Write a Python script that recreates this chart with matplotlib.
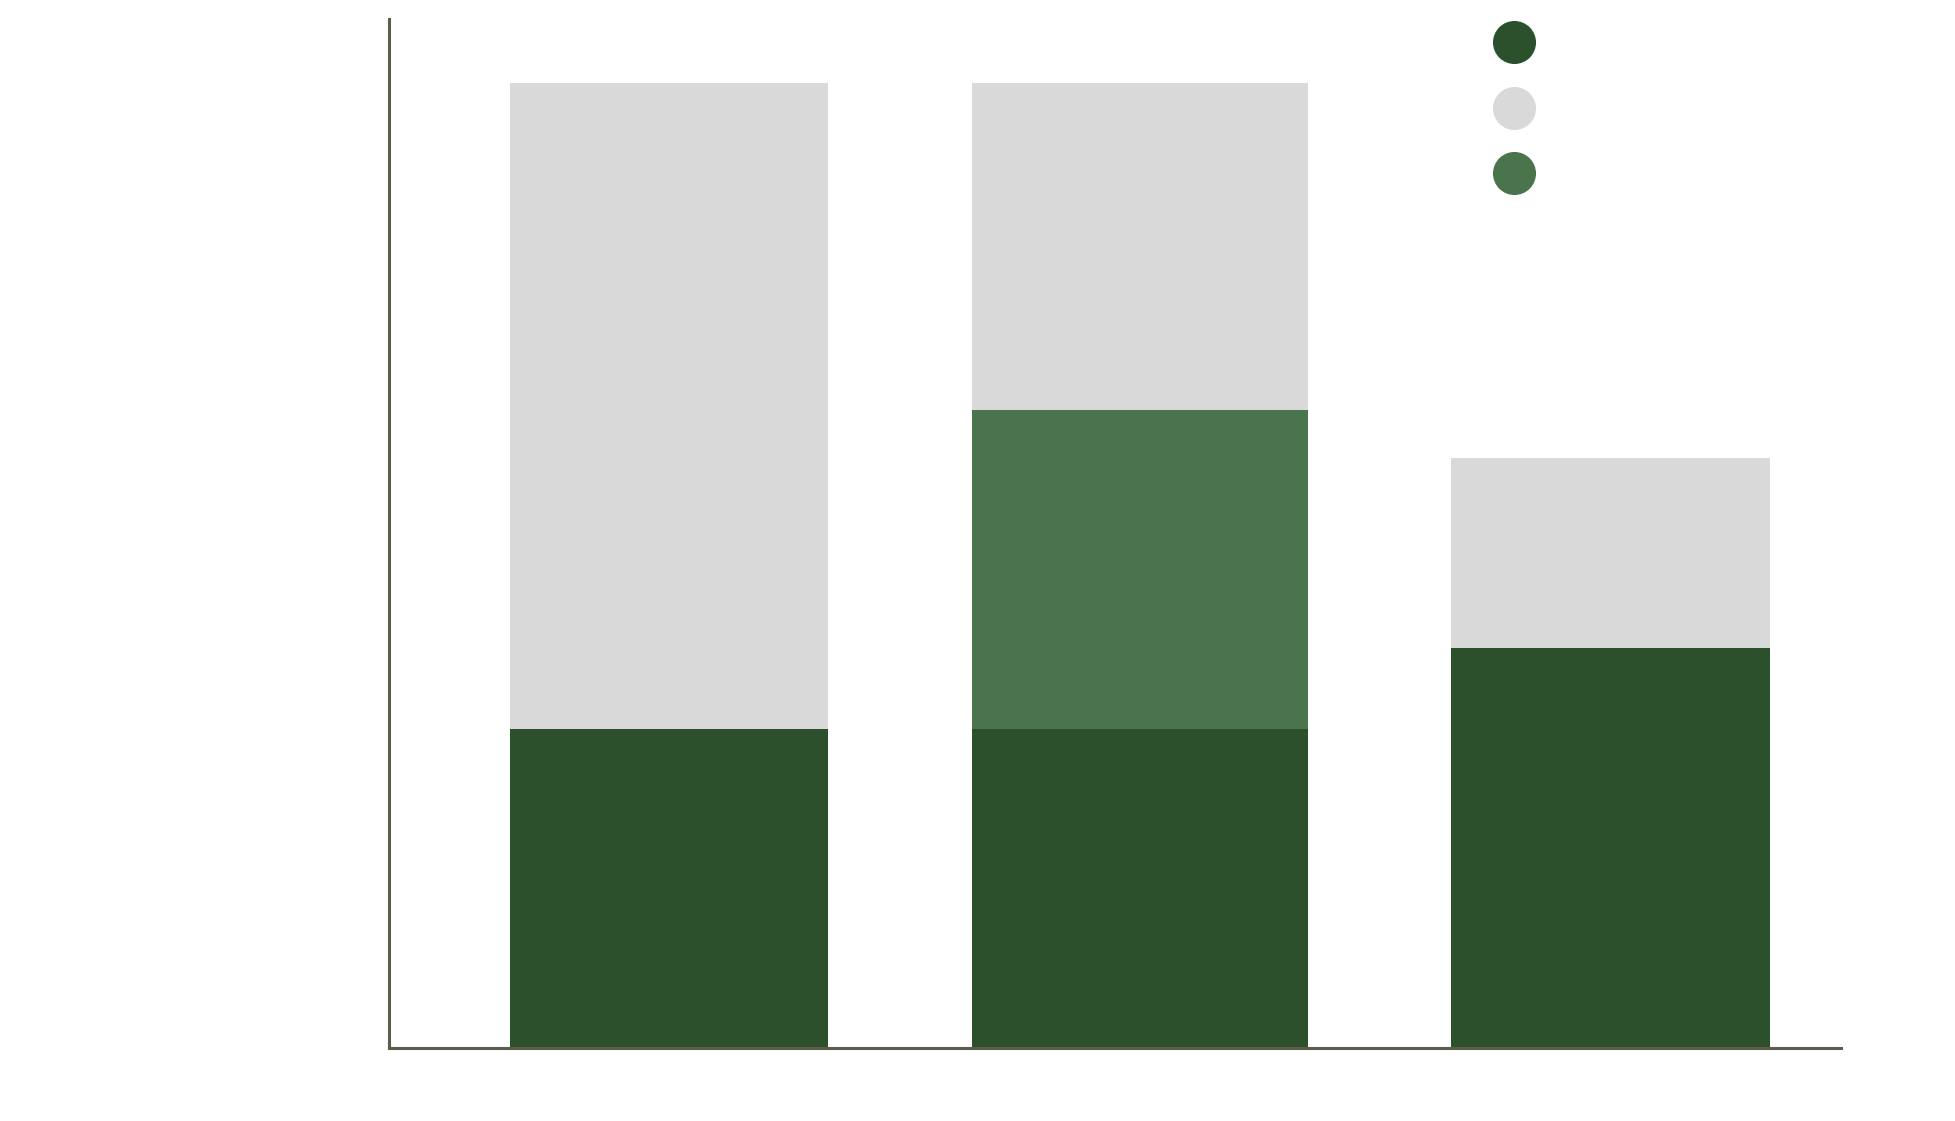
import matplotlib.pyplot as plt
from matplotlib.lines import Line2D

# data
categories = ["A", "B", "C"]
series_names = ["Dark", "Light", "Mid"]
dark_vals = [33.1, 33.1, 41.5]
mid_vals = [0.0, 33.0, 0.0]
light_vals = [66.9, 33.9, 19.6]
bar_widths = [0.676, 0.713, 0.676]

colors = {"Dark": "#2c502b", "Light": "#d9d9d9", "Mid": "#4a744c"}
spine_color = "#5b5d4b"

fig = plt.figure(figsize=(19.56, 11.21), dpi=100)
ax = fig.add_axes([0.199, 0.065, 0.742, 0.918])

x = list(range(len(categories)))
bottom_mid = dark_vals
bottom_light = [d + m for d, m in zip(dark_vals, mid_vals)]
ax.bar(x, dark_vals, width=bar_widths, color=colors["Dark"], linewidth=0, zorder=2)
ax.bar(x, mid_vals, width=bar_widths, bottom=bottom_mid, color=colors["Mid"], linewidth=0, zorder=2)
ax.bar(x, light_vals, width=bar_widths, bottom=bottom_light, color=colors["Light"], linewidth=0, zorder=2)

ax.set_xlim(-0.595, 2.489)
ax.set_ylim(0, 106.6)
ax.set_xticks([])
ax.set_yticks([])
for s in ["top", "right"]:
    ax.spines[s].set_visible(False)
for s in ["left", "bottom"]:
    ax.spines[s].set_color(spine_color)
    ax.spines[s].set_linewidth(2.2)

handles = [Line2D([], [], linestyle="none", marker="o", markersize=31,
                  markerfacecolor=colors[n], markeredgewidth=0) for n in series_names]
fig.legend(handles, [" "] * 3, loc="upper left", bbox_to_anchor=(0.747, 0.996),
           frameon=False, fontsize=20, labelspacing=1.36, handlelength=2.0)

fig.savefig("out.png", dpi=100)
